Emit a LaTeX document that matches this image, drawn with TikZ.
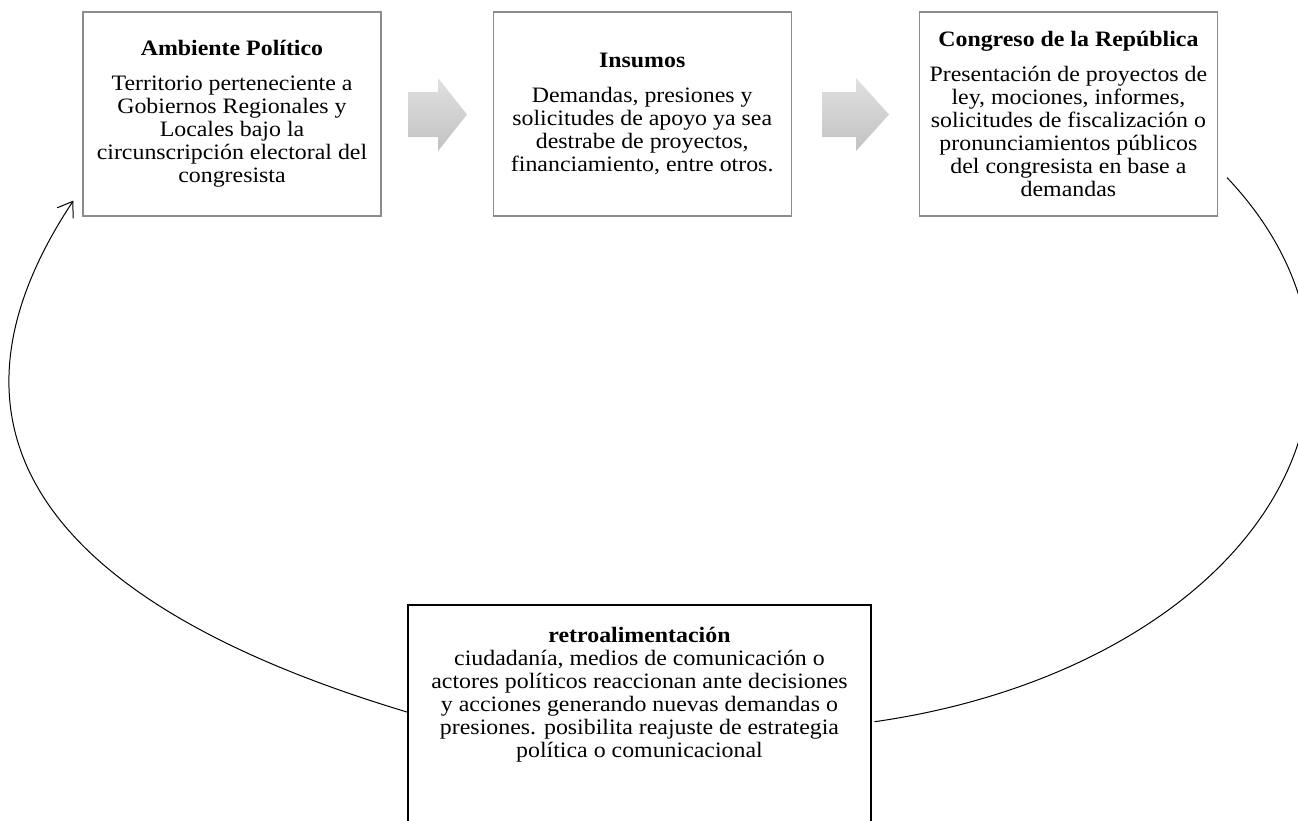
\documentclass[tikz,border=0pt]{standalone}
\usepackage{fontspec}
\setmainfont{Liberation Serif}[FakeStretch=1.085]
\usepackage{tikz}
\usetikzlibrary{positioning}
\usetikzlibrary{arrows.meta}
\tikzset{caja/.style={draw=black!45, line width=1.2pt, minimum width=298pt, minimum height=204pt, inner sep=0pt, align=center, font=\fontsize{22}{23}\selectfont}}
\tikzset{retrocaja/.style={draw=black, line width=2pt, minimum width=463pt, minimum height=240pt, inner sep=0pt}}
\tikzset{texto/.style={inner sep=0pt, align=center, font=\fontsize{22}{23}\selectfont}}
\tikzset{flecha/.style={draw=none, top color=black!12, bottom color=black!24}}
\tikzset{curva/.style={line width=1pt}}

\begin{document}
\begin{tikzpicture}[x=1pt,y=-1pt]
\useasboundingbox (0,0) rectangle (1298,820);
\clip (0,0) rectangle (1298,820);
\node[caja] (ambiente) at (232,114) {\textbf{Ambiente Político}\\[12pt] Territorio perteneciente a\\ Gobiernos Regionales y\\ Locales bajo la\\ circunscripción electoral del\\ congresista};
\node[caja, right=111pt of ambiente] (insumos) {\textbf{Insumos}\\[12pt] Demandas, presiones y\\ solicitudes de apoyo ya sea\\ destrabe de proyectos,\\ financiamiento, entre otros.};
\node[caja, right=127pt of insumos] (congreso) {\textbf{Congreso de la República}\\[12pt] Presentación de proyectos de\\ ley, mociones, informes,\\ solicitudes de fiscalización o\\ pronunciamientos públicos\\ del congresista en base a\\ demandas};
\node[retrocaja] (retro) at (639.5,725) {};
\node[texto, anchor=north] (retrotexto) at ([yshift=-23pt]retro.north) {\textbf{retroalimentación}\\ ciudadanía, medios de comunicación o\\ actores políticos reaccionan ante decisiones\\ y acciones generando nuevas demandas o\\ presiones. posibilita reajuste de estrategia\\ política o comunicacional};
% flechas grises
\path[flecha] (408,92) -- (438,92) -- (438,78) -- (467,114.5) -- (438,151) -- (438,137) -- (408,137) -- cycle;
\path[flecha] (822,92) -- (856,92) -- (856,78) -- (889,114.5) -- (856,151) -- (856,137) -- (822,137) -- cycle;
\draw[curva] ([shift={(9pt,39pt)}]congreso.south east) arc[start angle=31.8, end angle=-77.7, x radius=553.5pt, y radius=361.8pt];
\draw[curva, -{Straight Barb[length=14pt,width=19pt]}] ([yshift=13pt]retro.west) .. controls +(-360,-108) and +(-154,232) .. ([shift={(-9pt,16pt)}]ambiente.south west);
\end{tikzpicture}
\end{document}
